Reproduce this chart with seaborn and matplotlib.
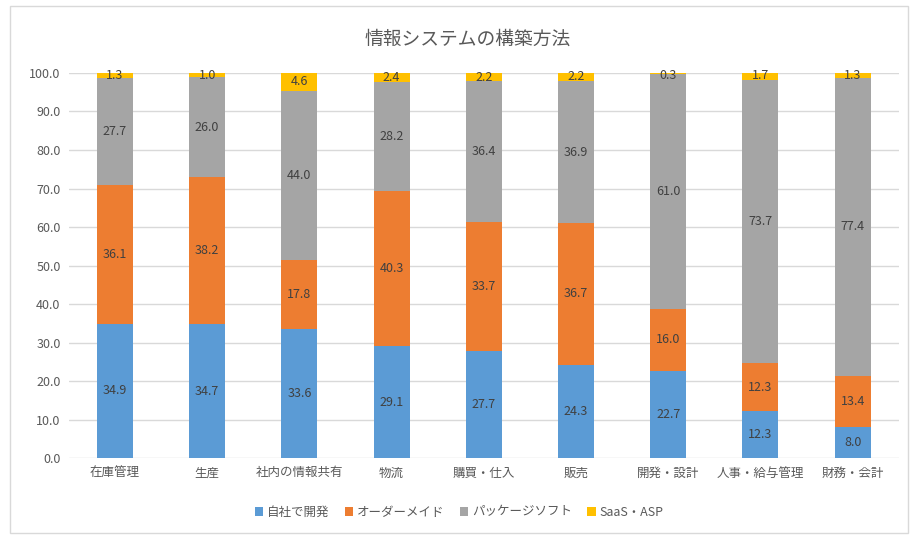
import matplotlib
matplotlib.use("Agg")
import matplotlib.pyplot as plt
import seaborn as sns
import numpy as np
from matplotlib.patches import Rectangle, Patch

categories = ["在庫管理", "生産", "社内の情報共有", "物流", "購買・仕入", "販売", "開発・設計", "人事・給与管理", "財務・会計"]
series_names = ["自社で開発", "オーダーメイド", "パッケージソフト", "SaaS・ASP"]
jisha = [34.9, 34.7, 33.6, 29.1, 27.7, 24.3, 22.7, 12.3, 8.0]
order = [36.1, 38.2, 17.8, 40.3, 33.7, 36.7, 16.0, 12.3, 13.4]
package = [27.7, 26.0, 44.0, 28.2, 36.4, 36.9, 61.0, 73.7, 77.4]
saas = [1.3, 1.0, 4.6, 2.4, 2.2, 2.2, 0.3, 1.7, 1.3]
colors = ["#5B9BD5", "#ED7D31", "#A5A5A5", "#FFC000"]
yticks = [0, 10, 20, 30, 40, 50, 60, 70, 80, 90, 100]

sns.set_theme(style="white")
plt.rcParams['font.family'] = ['Noto Sans CJK JP', 'DejaVu Sans']
txt = "#595959"

fig = plt.figure(figsize=(9.18, 5.39), dpi=100)
ax = fig.add_axes([0.075, 0.150, 0.904, 0.7146])

series = [jisha, order, package, saas]
bottom = np.zeros(len(categories))
for vals, col in zip(series, colors):
    sns.barplot(x=categories, y=vals, bottom=bottom, color=col, width=0.39,
                ax=ax, saturation=1, linewidth=0, zorder=3)
    for i, v in enumerate(vals):
        yc = bottom[i] + v / 2
        if yc > 99:
            yc = 99.3
        ax.text(i, yc, f"{v:.1f}", ha="center", va="center", fontsize=9, color="#404040", zorder=5)
    bottom = bottom + np.array(vals)

ax.set_ylim(0, 100)
ax.set_xlim(-0.5, len(categories) - 0.5)
ax.set_yticks(yticks)
ax.set_yticklabels([f"{t:.1f}" for t in yticks], fontsize=9, color=txt)
ax.tick_params(axis="x", labelsize=9, colors=txt, length=0, pad=6)
ax.tick_params(axis="y", length=0, pad=6)
ax.yaxis.grid(True, color="#D9D9D9", linewidth=1, zorder=0)
ax.set_axisbelow(True)
for s in ax.spines.values():
    s.set_visible(False)
ax.set_xlabel("")
ax.set_ylabel("")

fig.text(0.509, 0.928, "情報システムの構築方法", ha="center", va="center", fontsize=13.5, color=txt)

handles = [Patch(facecolor=c, edgecolor="none") for c in colors]
fig.legend(handles, series_names, loc="center", bbox_to_anchor=(0.5, 0.050), ncol=4, frameon=False,
           fontsize=9, labelcolor=txt, handlelength=0.7, handleheight=0.7, handletextpad=0.3, columnspacing=1.2)

fig.patches.append(Rectangle((10 / 918, 6 / 539), 898 / 918, 527 / 539, transform=fig.transFigure,
                             fill=False, edgecolor="#D9D9D9", linewidth=1))

fig.savefig("out.png", dpi=100)
